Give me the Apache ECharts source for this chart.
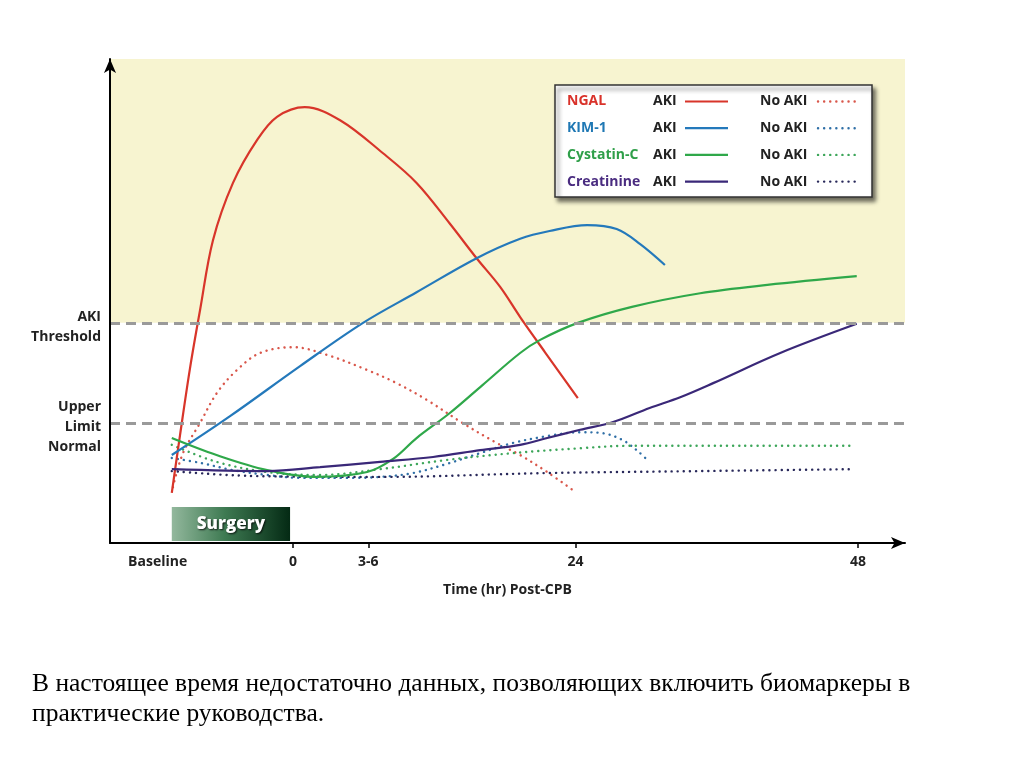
<!DOCTYPE html>
<html><head><meta charset="utf-8">
<script src="https://cdn.jsdelivr.net/npm/echarts@6/dist/echarts.min.js"></script>
<style>html,body{margin:0;padding:0;background:#fff}#c{width:1024px;height:767px}</style>
</head><body><div id="c"></div>
<script>
// ---- data (x = hours post-CPB, y = relative biomarker level) ----
const xTickValues = [-11.5, 0, 6.4, 24, 48];
const xTickLabels = ['Baseline', '0', '3-6', '24', '48'];
const yRefValues = [24.7, 45.3];
const yRefLabels = [['Upper', 'Limit', 'Normal'], ['AKI', 'Threshold']];
const biomarkers = ['NGAL', 'KIM-1', 'Cystatin-C', 'Creatinine'];
const aki = 'AKI', noAki = 'No AKI';
const surgeryLabel = 'Surgery';
const surgeryRange = [-10.3, -0.25];
const xAxisName = 'Time (hr) Post-CPB';
const footnote = 'В настоящее время недостаточно данных, позволяющих включить биомаркеры в\nпрактические руководства.';

const ngalAki = [[-10.3,10.3],[-9.6,22.2],[-8.75,36.0],[-7.9,47.9],[-6.8,62.3],[-5.1,74.1],[-3.06,82.9],[-1.36,87.7],[1.0,89.7],[4.0,87.0],[7.65,80.2],[10.5,74.1],[13.3,65.8],[15.6,58.6],[17.6,52.7],[19.3,46.5],[21.4,39.3],[24.2,29.8]];
const ngalNo = [[-10.2,11.5],[-9.35,18.5],[-7.9,24.7],[-6.46,30.9],[-4.76,35.6],[-2.8,39.1],[0,40.3],[2.9,38.7],[6.3,35.6],[8.8,32.9],[11.4,29.4],[14.4,24.7],[17.3,20.6],[19.3,18.1],[21.6,14.6],[24.0,10.5]];
const kimAki = [[-10.3,18.1],[-5.35,26.1],[0.6,36.4],[5.95,45.3],[10.5,51.6],[15.6,58.6],[19.3,62.6],[21.8,64.2],[25.0,65.4],[27.5,64.6],[29.5,61.5],[31.6,57.2]];
const kimNo = [[-10.3,17.5],[-7.9,16.5],[-5.1,15.0],[-2.2,14.0],[0.6,13.4],[4.8,13.4],[7.4,13.6],[10.2,14.4],[13.1,16.3],[15.9,18.5],[18.7,20.6],[21.6,22.0],[24.4,22.8],[26.3,22.6],[28.0,21.2],[29.2,19.1],[30.1,17.1]];
const cysAki = [[-10.3,21.6],[-6.5,18.1],[-2.2,15.0],[2.0,13.6],[6.3,14.6],[8.5,17.3],[10.5,21.6],[13.3,26.7],[16.1,32.5],[19.3,39.1],[21.0,41.8],[24.2,45.3],[28.8,48.6],[34.6,51.4],[40.3,53.1],[47.9,54.9]];
const cysNo = [[-10.3,20.2],[-6.5,16.7],[-2.2,14.6],[2.3,14.0],[7.4,15.2],[13.1,17.1],[18.7,18.5],[24.4,19.5],[28.6,20.0],[38.0,20.0],[47.6,20.0]];
const creAki = [[-10.3,15.2],[-2.2,14.8],[2.3,15.6],[7.4,16.7],[11.9,17.7],[15.9,19.1],[19.3,20.2],[21.6,21.6],[24.4,23.3],[27.2,24.9],[30.3,27.8],[32.9,30.0],[35.7,32.9],[41.4,39.1],[47.9,45.1]];
const creNo = [[-10.3,14.8],[-3.65,13.8],[7.4,13.6],[21.6,14.4],[34.6,14.8],[47.6,15.2]];

// ---- styles ----
const solidColors = ['#d8352a', '#2479bb', '#2fa84a', '#3a2878'];
const dotColors = ['#d9574b', '#2f6fa6', '#3da65a', '#28285a'];
const nameColors = ['#d9322a', '#1f78b4', '#2f9f49', '#4a2c80'];
const akiData = [ngalAki, kimAki, cysAki, creAki];
const noData = [ngalNo, kimNo, cysNo, creNo];
const FONT = 'Open Sans';
const DOT = [0.1, 6];

const series = [];
series.push({
  type: 'line', data: [], z: 0, silent: true,
  markArea: {
    silent: true,
    data: [
      [{ yAxis: yRefValues[1], itemStyle: { color: '#f7f4d0' } }, { yAxis: 99.6 }],
      [{ xAxis: surgeryRange[0], yAxis: 0.4, name: surgeryLabel,
         itemStyle: { color: { type: 'linear', x: 0, y: 0, x2: 1, y2: 0,
           colorStops: [{ offset: 0, color: '#93b89d' }, { offset: 0.45, color: '#3e7a52' }, { offset: 1, color: '#042a14' }] } },
         label: { show: true, position: 'inside', color: '#fff', fontFamily: FONT, fontWeight: 800, fontSize: 17,
           textShadowColor: 'rgba(0,0,0,0.8)', textShadowBlur: 2, textShadowOffsetX: 1, textShadowOffsetY: 1 } },
       { xAxis: surgeryRange[1], yAxis: 7.4 }]
    ]
  },
  markLine: {
    silent: true, symbol: 'none', label: { show: false },
    lineStyle: { color: '#9a9a9a', width: 3, type: [10, 6] },
    data: yRefValues.map(v => ({ yAxis: v }))
  }
});
for (let i = 0; i < 4; i++) {
  series.push({
    name: biomarkers[i] + ' ' + noAki, type: 'line', data: noData[i], smooth: 0.35, showSymbol: false, z: 2,
    lineStyle: { color: dotColors[i], width: 2.4, type: DOT, cap: 'round' }
  });
}
for (let i = 0; i < 4; i++) {
  series.push({
    name: biomarkers[i] + ' ' + aki, type: 'line', data: akiData[i], smooth: 0.35, showSymbol: false, z: 3,
    lineStyle: { color: solidColors[i], width: 2.2 }
  });
}

// legend box drawn as graphic
const LX = 555, LY = 85;
const legendEls = [{
  type: 'rect', x: LX, y: LY, z: 100, shape: { x: 0, y: 0, width: 317, height: 112 },
  style: { fill: '#fff', stroke: '#333', lineWidth: 1.5, shadowBlur: 4, shadowOffsetX: 3, shadowOffsetY: 4, shadowColor: 'rgba(0,0,0,0.55)' }
}];
biomarkers.forEach((b, i) => {
  const y = LY + 16.5 + i * 26.7;
  const tf = { fontFamily: FONT, fontWeight: 'bold', fontSize: 14, verticalAlign: 'middle' };
  legendEls.push({ type: 'text', z: 101, x: LX + 12, y: y, style: Object.assign({ text: b, fill: nameColors[i] }, tf) });
  legendEls.push({ type: 'text', z: 101, x: LX + 98, y: y, style: Object.assign({ text: aki, fill: '#222' }, tf) });
  legendEls.push({ type: 'line', z: 101, shape: { x1: LX + 130, y1: y, x2: LX + 173, y2: y }, style: { stroke: solidColors[i], lineWidth: 2.2 } });
  legendEls.push({ type: 'text', z: 101, x: LX + 205, y: y, style: Object.assign({ text: noAki, fill: '#222' }, tf) });
  legendEls.push({ type: 'line', z: 101, shape: { x1: LX + 263, y1: y, x2: LX + 301, y2: y }, style: { stroke: dotColors[i], lineWidth: 2.4, lineDash: DOT, lineCap: 'round' } });
});

const option = {
  animation: false,
  backgroundColor: '#fff',
  title: {
    text: footnote, left: 27, top: 664,
    textStyle: { fontFamily: 'Liberation Serif', fontWeight: 'normal', fontSize: 25.5, color: '#000', lineHeight: 30 }
  },
  grid: { left: 110, right: 119, top: 59, bottom: 224 },
  xAxis: {
    type: 'value', min: -15.55, max: 52, z: 10,
    name: xAxisName, nameLocation: 'middle', nameGap: 40,
    nameTextStyle: { fontFamily: FONT, fontWeight: 'bold', fontSize: 14, color: '#222' },
    axisLine: { show: true, onZero: false, symbol: ['none', 'arrow'], symbolSize: [9, 14], lineStyle: { color: '#000', width: 2 } },
    axisTick: { show: true, length: 5, lineStyle: { color: '#000', width: 1.5 }, customValues: xTickValues.slice(1) },
    axisLabel: { customValues: xTickValues, margin: 12, fontFamily: FONT, fontWeight: 'bold', fontSize: 14, color: '#222',
      formatter: v => { const k = xTickValues.indexOf(v); return k >= 0 ? xTickLabels[k] : ''; } },
    splitLine: { show: false }
  },
  yAxis: {
    type: 'value', min: 0, max: 99.6, z: 10,
    axisLine: { show: true, onZero: false, symbol: ['none', 'arrow'], symbolSize: [9, 14], lineStyle: { color: '#000', width: 2 } },
    axisTick: { show: false },
    axisLabel: { customValues: yRefValues, margin: 9, color: '#222', align: 'right',
      rich: {
        t: { fontFamily: FONT, fontWeight: 'bold', fontSize: 14, color: '#222', lineHeight: 20, align: 'right' },
        s: { fontSize: 6, lineHeight: 8 }
      },
      formatter: v => { const k = yRefValues.indexOf(v); return k >= 0 ? '{s| }\n' + yRefLabels[k].map(t => '{t|' + t + '}').join('\n') : ''; } },
    splitLine: { show: false }
  },
  graphic: { elements: legendEls },
  series: series
};
const chart = echarts.init(document.getElementById('c'), null, { renderer: 'canvas' });
chart.setOption(option);
</script>
</body></html>
